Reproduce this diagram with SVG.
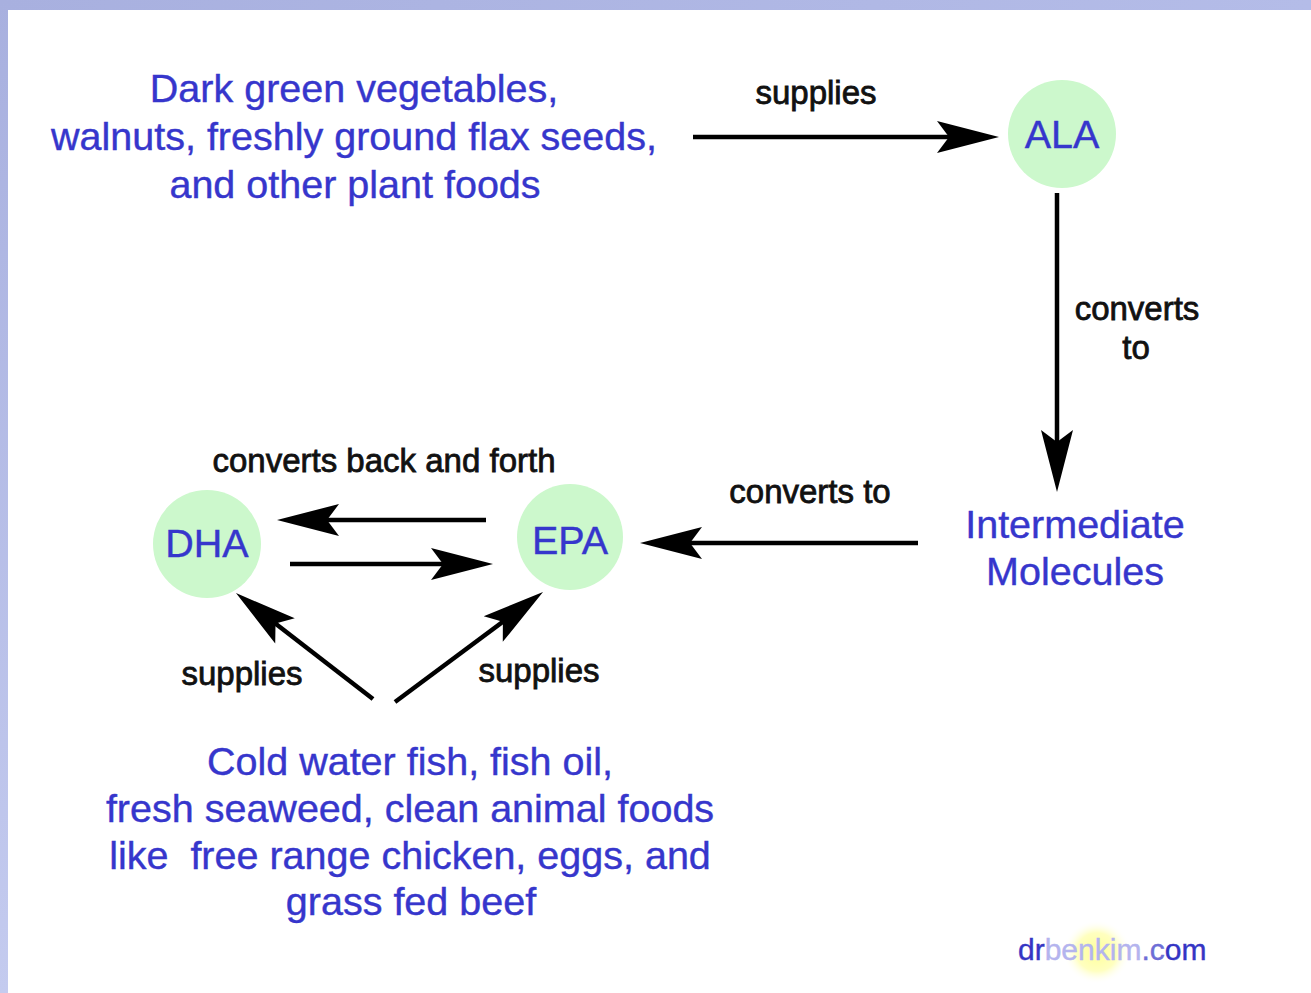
<svg xmlns="http://www.w3.org/2000/svg" width="1311" height="993" viewBox="0 0 1311 993">
<style>
.blue{font-family:"Liberation Sans",Arial,sans-serif;font-size:39.5px;fill:#3636cc;stroke:#3636cc;stroke-width:0.4;text-anchor:middle}
.lbl{font-family:"Liberation Sans",Arial,sans-serif;font-size:33px;fill:#111;stroke:#111;stroke-width:0.8;text-anchor:middle}
.node{fill:#ccf8cc}
.conn{stroke:#000;stroke-width:4.5;fill:none;marker-end:url(#head)}
</style>
<defs>
<marker id="head" markerUnits="userSpaceOnUse" orient="auto" refX="-40" refY="0" markerWidth="80" markerHeight="40" viewBox="-70 -20 80 40" overflow="visible">
<path d="M0,0 L-62,-16 L-50,0 L-62,16 Z" fill="#000"/>
</marker>
<linearGradient id="gtop" x1="0" y1="0" x2="1" y2="0"><stop offset="0" stop-color="#a8b0df"/><stop offset="1" stop-color="#b4bce8"/></linearGradient>
<linearGradient id="gleft" x1="0" y1="0" x2="0" y2="1"><stop offset="0" stop-color="#a8b0df"/><stop offset="1" stop-color="#c4cbef"/></linearGradient>
<radialGradient id="glow"><stop offset="0" stop-color="#ffff99"/><stop offset="0.6" stop-color="#ffffc0"/><stop offset="1" stop-color="#ffffff" stop-opacity="0"/></radialGradient>
</defs>
<rect x="0" y="0" width="1311" height="993" fill="#fff"/>
<rect x="0" y="0" width="1311" height="10" fill="url(#gtop)"/>
<rect x="0" y="0" width="8" height="993" fill="url(#gleft)"/>

<g id="connectors">
<line class="conn" x1="693" y1="137" x2="959" y2="137"/>
<line class="conn" x1="1057" y1="193" x2="1057" y2="452"/>
<line class="conn" x1="918" y1="543" x2="680" y2="543"/>
<line class="conn" x1="486" y1="520" x2="317" y2="520"/>
<line class="conn" x1="290" y1="564" x2="453" y2="564"/>
<line class="conn" x1="373" y1="699" x2="267.6" y2="617.5"/>
<line class="conn" x1="395" y1="702" x2="510.9" y2="615.9"/>
<text class="lbl" x="816" y="104">supplies</text>
<text class="lbl" x="1137" y="320">converts</text>
<text class="lbl" x="1136" y="359">to</text>
<text class="lbl" x="810" y="503">converts to</text>
<text class="lbl" x="384" y="472">converts back and forth</text>
<text class="lbl" x="242" y="685">supplies</text>
<text class="lbl" x="539" y="682">supplies</text>
</g>

<g id="plant-foods">
<text class="blue" x="354" y="102">Dark green vegetables,</text>
<text class="blue" x="354" y="150">walnuts, freshly ground flax seeds,</text>
<text class="blue" x="355" y="198">and other plant foods</text>
</g>

<g id="ala">
<circle class="node" cx="1062" cy="134" r="54"/>
<text class="blue" x="1062" y="148">ALA</text>
</g>

<g id="intermediate">
<text class="blue" x="1075" y="538">Intermediate</text>
<text class="blue" x="1075" y="585">Molecules</text>
</g>

<g id="epa">
<circle class="node" cx="570" cy="537" r="53"/>
<text class="blue" x="570" y="554">EPA</text>
</g>

<g id="dha">
<circle class="node" cx="207" cy="544" r="54"/>
<text class="blue" x="207" y="557">DHA</text>
</g>

<g id="animal-foods">
<text class="blue" x="410" y="775">Cold water fish, fish oil,</text>
<text class="blue" x="410" y="822">fresh seaweed, clean animal foods</text>
<text class="blue" x="410" y="869" xml:space="preserve">like  free range chicken, eggs, and</text>
<text class="blue" x="411" y="915">grass fed beef</text>
</g>

<g id="watermark">
<ellipse cx="1097" cy="952" rx="34" ry="32" fill="url(#glow)"/>
<text x="1018" y="960" font-family="'Liberation Sans',Arial,sans-serif" font-size="30px" stroke-width="0.4"><tspan fill="#3535c4" stroke="#3535c4">dr</tspan><tspan fill="#b4b4ee" stroke="#b4b4ee">benkim</tspan><tspan fill="#6e6ed6" stroke="#6e6ed6">.c</tspan><tspan fill="#3535c4" stroke="#3535c4">om</tspan></text>
</g>
</svg>
